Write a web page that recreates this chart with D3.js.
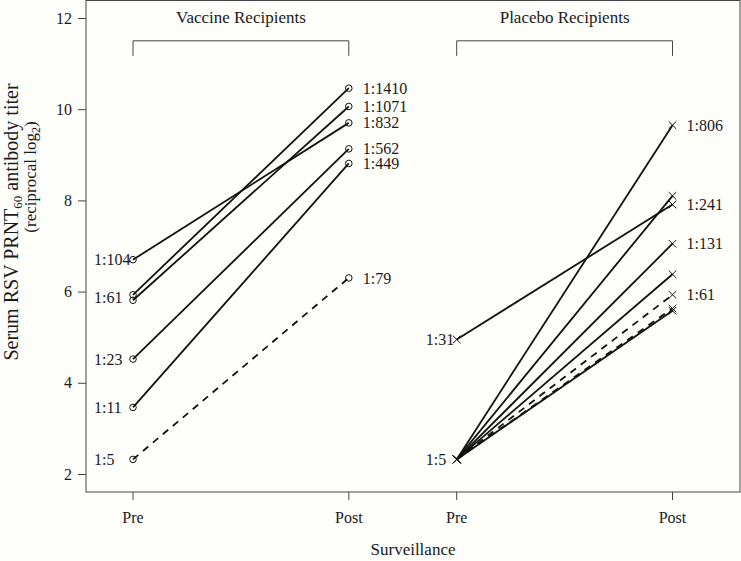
<!DOCTYPE html>
<html><head><meta charset="utf-8">
<script src="https://cdn.jsdelivr.net/npm/d3@7"></script>
<style>
html,body{margin:0;padding:0;background:#fefefa;}
svg{display:block;}
svg text{font-family:"Liberation Serif","DejaVu Serif",serif;}
</style></head>
<body>
<svg id="chart" width="741" height="561"></svg>
<script>
// ---------- data (reciprocal log2 titers) ----------
const xCategories = ["Pre", "Post", "Pre", "Post"];
const xPositions = [1, 2, 2.5, 3.5];
const yTicks = [2, 4, 6, 8, 10, 12];

const vaccPre = [6.70, 5.93, 5.81, 4.52, 3.46, 2.32];
const vaccPost = [9.70, 10.46, 10.06, 9.13, 8.81, 6.30];
const vaccDashed = [false, false, false, false, false, true];
const vaccPreLabelText = ["1:104", "1:61", "1:23", "1:11", "1:5"];
const vaccPreLabelValue = [6.70, 5.88, 4.52, 3.46, 2.32];
const vaccPostLabelText = ["1:1410", "1:1071", "1:832", "1:562", "1:449", "1:79"];
const vaccPostLabelValue = [10.46, 10.06, 9.70, 9.13, 8.81, 6.30];

const placPre = [4.95, 2.32, 2.32, 2.32, 2.32, 2.32, 2.32, 2.32];
const placPost = [7.91, 9.65, 8.10, 7.05, 6.38, 5.93, 5.63, 5.58];
const placDashed = [false, false, false, false, false, true, true, false];
const placPreLabelText = ["1:31", "1:5"];
const placPreLabelValue = [4.95, 2.32];
const placPostLabelText = ["1:806", "1:241", "1:131", "1:61"];
const placPostLabelValue = [9.65, 7.91, 7.05, 5.93];

const groupTitles = ["Vaccine Recipients", "Placebo Recipients"];
const bracketTop = 11.5, bracketBottom = 11.17;

// ---------- layout ----------
const FONT = "Liberation Serif";
const svg = d3.select("#chart");
const box = {left: 86, right: 740, top: 0.5, bottom: 492};
const x = d3.scaleLinear().domain([1, 3.5]).range([133, 672.5]);
const y = d3.scaleLinear().domain([2, 12]).range([474, 18]);
const ink = "#111";
const axisCol = "#444";
const txtCol = "#1a1a1a";

function txt(sel) { return sel.attr("font-family", FONT).attr("fill", txtCol); }

// plot box
svg.append("rect").attr("x", box.left).attr("y", box.top)
  .attr("width", box.right - box.left).attr("height", box.bottom - box.top)
  .attr("fill", "none").attr("stroke", axisCol).attr("stroke-width", 1);

// y axis
const yAxis = d3.axisLeft(y).tickValues(yTicks).tickSize(8).tickPadding(6);
const gy = svg.append("g").attr("transform", `translate(${box.left},0)`).call(yAxis)
  .attr("font-family", FONT);
gy.select(".domain").remove();
gy.selectAll("line").attr("stroke", axisCol);
txt(gy.selectAll("text")).attr("font-size", 16);

// x axis
const gx = svg.append("g").attr("transform", `translate(0,${box.bottom})`);
xPositions.forEach((p, i) => {
  gx.append("line").attr("x1", x(p)).attr("x2", x(p)).attr("y1", 0).attr("y2", 8).attr("stroke", axisCol);
  txt(gx.append("text")).attr("x", x(p)).attr("y", 31).attr("text-anchor", "middle")
    .attr("font-size", 16).text(xCategories[i]);
});

// axis titles
txt(svg.append("text")).attr("x", 413).attr("y", 555).attr("text-anchor", "middle")
  .attr("font-size", 17).text("Surveillance");

const yt1 = txt(svg.append("text")).attr("transform", "translate(18,222) rotate(-90)")
  .attr("text-anchor", "middle").attr("font-size", 20);
yt1.append("tspan").text("Serum RSV PRNT");
yt1.append("tspan").attr("font-size", 13).attr("dy", 4).text("60");
yt1.append("tspan").attr("dy", -4).text(" antibody titer");

const yt2 = txt(svg.append("text")).attr("transform", "translate(36,177) rotate(-90)")
  .attr("text-anchor", "middle").attr("font-size", 17);
yt2.append("tspan").text("(reciprocal log");
yt2.append("tspan").attr("font-size", 12).attr("dy", 4).text("2");
yt2.append("tspan").attr("dy", -4).text(")");

// group titles and brackets
[[1, 2], [2.5, 3.5]].forEach((g, i) => {
  txt(svg.append("text")).attr("x", x((g[0] + g[1]) / 2)).attr("y", y(12) + 5)
    .attr("text-anchor", "middle").attr("font-size", 17).text(groupTitles[i]);
  svg.append("path")
    .attr("d", `M${x(g[0])},${y(bracketBottom)}V${y(bracketTop)}H${x(g[1])}V${y(bracketBottom)}`)
    .attr("fill", "none").attr("stroke", axisCol).attr("stroke-width", 1);
});

// lines
function drawLines(pre, post, dashed, xa, xb) {
  pre.forEach((v, i) => {
    svg.append("line").attr("x1", x(xa)).attr("y1", y(v)).attr("x2", x(xb)).attr("y2", y(post[i]))
      .attr("stroke", ink).attr("stroke-width", 1.8)
      .attr("stroke-dasharray", dashed[i] ? "7,6" : null);
  });
}
drawLines(vaccPre, vaccPost, vaccDashed, 1, 2);
drawLines(placPre, placPost, placDashed, 2.5, 3.5);

// markers
function circles(vals, xp) {
  vals.forEach(v => svg.append("circle").attr("cx", x(xp)).attr("cy", y(v)).attr("r", 3.3)
    .attr("fill", "none").attr("stroke", ink).attr("stroke-width", 1));
}
function crosses(vals, xp) {
  const s = 3.8;
  vals.forEach(v => svg.append("path")
    .attr("d", `M${x(xp) - s},${y(v) - s}L${x(xp) + s},${y(v) + s}M${x(xp) - s},${y(v) + s}L${x(xp) + s},${y(v) - s}`)
    .attr("stroke", ink).attr("stroke-width", 1).attr("fill", "none"));
}
circles(vaccPre, 1); circles(vaccPost, 2);
crosses(placPre, 2.5); crosses(placPost, 3.5);

// value labels
function labels(texts, vals, xp, dx, anchor) {
  texts.forEach((t, i) => txt(svg.append("text")).attr("x", x(xp) + dx).attr("y", y(vals[i]))
    .attr("dy", "0.35em").attr("text-anchor", anchor).attr("font-size", 16).text(t));
}
labels(vaccPreLabelText, vaccPreLabelValue, 1, -39, "start");
labels(vaccPostLabelText, vaccPostLabelValue, 2, 14, "start");
labels(placPreLabelText, placPreLabelValue, 2.5, -31, "start");
labels(placPostLabelText, placPostLabelValue, 3.5, 14, "start");
</script>
</body></html>
